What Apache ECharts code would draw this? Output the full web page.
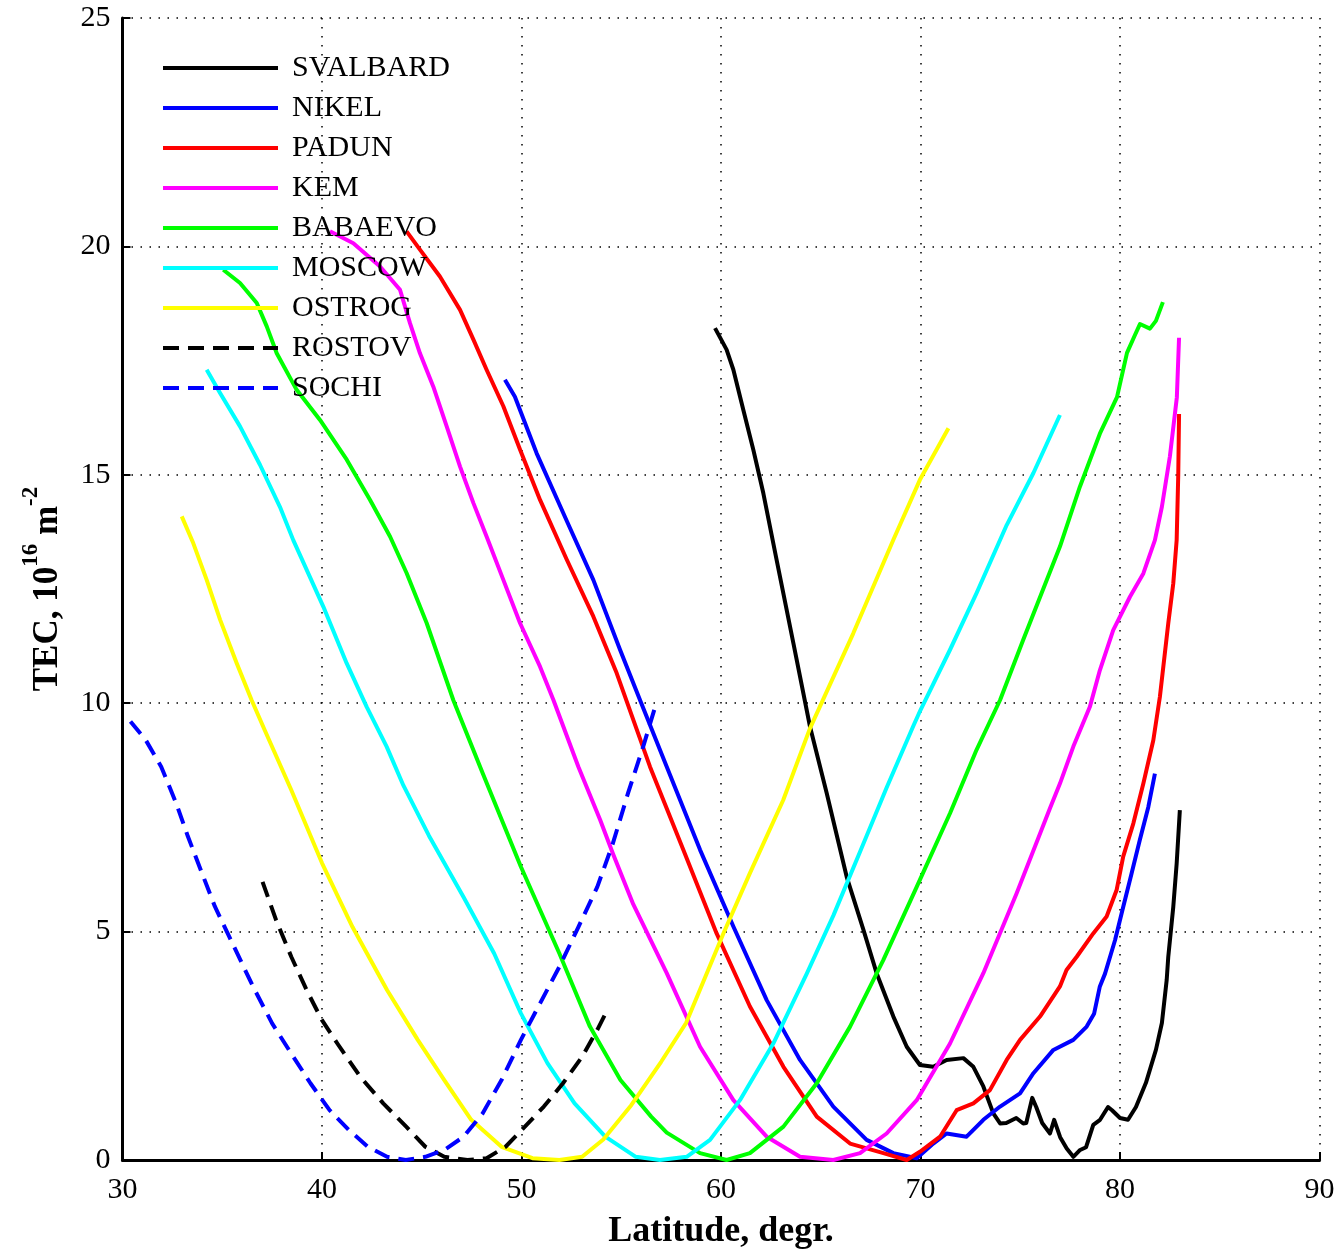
<!DOCTYPE html>
<html>
<head>
<meta charset="utf-8">
<script src="https://cdn.jsdelivr.net/npm/echarts@6/dist/echarts.min.js"></script>
<style>
html,body{margin:0;padding:0;background:#fff;}
#chart{width:1337px;height:1250px;}
</style>
</head>
<body>
<div id="chart"></div>
<script>
// ---- data: [latitude, TEC] pairs ----
var stationNames = ['SVALBARD','NIKEL','PADUN','KEM','BABAEVO','MOSCOW','OSTROG','ROSTOV','SOCHI'];
var stationColors = ['#000000','#0000ff','#ff0000','#ff00ff','#00ff00','#00ffff','#ffff00','#000000','#0000ff'];
var stationDashed = [false,false,false,false,false,false,false,true,true];

var xTicks = [30,40,50,60,70,80,90];
var yTicks = [0,5,10,15,20,25];

var svalbard = [[59.7,18.21],[60.28,17.74],[60.62,17.3],[61.12,16.42],[61.62,15.55],[62.12,14.6],[62.79,13.13],[63.63,11.31],[64.46,9.49],[65.3,8.03],[66.3,6.2],[67.14,5.04],[67.8,4.09],[68.64,3.14],[69.31,2.48],[69.97,2.08],[70.64,2.04],[71.31,2.19],[72.15,2.23],[72.65,2.04],[73.15,1.61],[73.65,1.02],[73.99,0.8],[74.3,0.81],[74.8,0.92],[75.15,0.8],[75.3,0.81],[75.6,1.36],[75.8,1.16],[76.1,0.81],[76.49,0.58],[76.7,0.88],[77.0,0.5],[77.33,0.25],[77.66,0.07],[78.0,0.22],[78.3,0.28],[78.66,0.77],[79.0,0.88],[79.4,1.16],[79.6,1.09],[80.0,0.92],[80.4,0.88],[80.8,1.16],[81.3,1.69],[81.8,2.41],[82.1,3.0],[82.34,3.94],[82.42,4.45],[82.67,5.54],[82.84,6.49],[83.0,7.66]];
var nikel = [[49.17,17.08],[49.67,16.71],[50.76,15.47],[52.26,14.0],[53.6,12.7],[54.94,11.17],[55.94,10.07],[57.28,8.61],[58.95,6.79],[60.62,5.11],[62.29,3.5],[63.96,2.19],[65.63,1.17],[67.3,0.44],[68.64,0.15],[69.81,0.04],[70.64,0.36],[71.31,0.58],[72.31,0.51],[73.15,0.88],[73.99,1.17],[74.99,1.46],[75.66,1.9],[76.66,2.41],[77.66,2.63],[78.33,2.92],[78.7,3.2],[78.99,3.8],[79.25,4.08],[79.75,4.81],[80.16,5.54],[80.58,6.27],[80.99,7.0],[81.42,7.73],[81.75,8.46]];
var padun = [[44.24,20.33],[44.91,19.93],[45.91,19.34],[46.92,18.61],[47.59,17.96],[48.25,17.3],[49.09,16.5],[49.93,15.55],[50.93,14.45],[52.26,13.15],[53.6,11.9],[54.77,10.66],[56.44,8.61],[58.11,6.79],[59.78,4.96],[61.45,3.36],[63.13,2.04],[64.8,0.95],[66.47,0.36],[68.14,0.15],[69.31,0.0],[69.97,0.18],[70.98,0.51],[71.81,1.09],[72.65,1.24],[73.48,1.53],[74.32,2.19],[74.99,2.63],[75.99,3.14],[76.99,3.8],[77.32,4.16],[77.83,4.45],[78.66,4.96],[79.33,5.33],[79.83,5.91],[80.16,6.64],[80.67,7.37],[81.17,8.24],[81.67,9.19],[82.0,10.14],[82.42,11.75],[82.67,12.62],[82.84,13.57],[82.92,15.0],[82.96,16.33]];
var kem = [[40.4,20.33],[41.57,20.07],[42.91,19.56],[43.91,19.05],[44.41,18.32],[44.91,17.66],[45.58,16.93],[46.25,16.06],[46.92,15.18],[47.59,14.38],[48.25,13.65],[49.09,12.7],[49.93,11.75],[50.93,10.8],[51.6,10.07],[52.85,8.61],[53.94,7.45],[54.58,6.71],[55.6,5.6],[57.28,4.09],[58.95,2.48],[60.62,1.31],[62.29,0.51],[63.96,0.07],[65.63,0.0],[66.97,0.15],[68.3,0.58],[69.81,1.31],[71.48,2.55],[73.15,4.09],[74.82,5.84],[76.49,7.7],[76.99,8.24],[77.66,9.05],[78.49,9.92],[78.99,10.72],[79.66,11.6],[80.5,12.33],[81.17,12.84],[81.75,13.57],[82.1,14.3],[82.5,15.4],[82.85,16.7],[82.96,18.0]];
var babaevo = [[35.05,19.49],[35.89,19.2],[36.73,18.76],[37.23,18.25],[37.73,17.66],[38.73,16.86],[39.9,16.2],[41.24,15.33],[42.41,14.45],[43.41,13.65],[44.24,12.85],[45.25,11.75],[46.58,10.07],[48.05,8.47],[49.97,6.42],[51.9,4.52],[53.43,2.92],[54.96,1.75],[56.5,0.95],[57.28,0.6],[58.95,0.15],[60.28,0.0],[61.45,0.15],[63.13,0.73],[64.8,1.68],[66.47,2.92],[68.14,4.38],[69.81,5.98],[71.48,7.59],[72.81,8.98],[73.99,10.07],[75.15,11.39],[76.99,13.43],[77.99,14.74],[78.99,15.9],[79.85,16.7],[80.35,17.67],[80.75,18.06],[81.0,18.3],[81.5,18.2],[81.8,18.37],[82.15,18.78]];
var moscow = [[34.22,17.3],[34.89,16.79],[35.89,16.06],[36.89,15.22],[37.89,14.3],[38.56,13.57],[40.07,12.11],[41.24,10.87],[42.24,9.92],[43.24,9.05],[44.08,8.2],[45.36,7.1],[47.1,5.75],[48.63,4.52],[49.97,3.21],[51.3,2.12],[52.66,1.24],[54.2,0.51],[55.73,0.07],[56.94,0.0],[58.28,0.07],[59.45,0.44],[60.95,1.31],[62.62,2.55],[64.3,4.08],[65.63,5.35],[66.97,6.75],[68.3,8.15],[69.64,9.5],[70.0,9.85],[71.48,11.17],[72.81,12.41],[74.32,13.9],[75.66,15.04],[76.99,16.31]];
var ostrog = [[32.97,14.09],[33.55,13.5],[34.22,12.7],[34.89,11.83],[35.72,10.88],[36.47,10.07],[37.12,9.42],[38.46,8.1],[40.0,6.5],[41.53,5.1],[43.26,3.72],[44.8,2.63],[46.13,1.75],[47.48,0.88],[49.0,0.29],[50.55,0.04],[51.9,0.0],[53.04,0.07],[54.1,0.45],[55.5,1.2],[57.0,2.15],[58.25,3.0],[60.12,4.96],[61.45,6.28],[63.12,7.88],[64.46,9.45],[66.63,11.53],[68.64,13.58],[69.97,14.89],[71.4,16.02]];
var rostov = [[37.02,6.09],[37.7,5.25],[38.46,4.45],[39.23,3.72],[40.0,3.06],[40.77,2.55],[41.92,1.82],[43.07,1.24],[44.22,0.73],[45.18,0.29],[46.13,0.07],[47.29,0.0],[48.25,0.04],[49.2,0.29],[50.17,0.73],[51.12,1.17],[52.08,1.68],[53.04,2.26],[53.8,2.85],[54.3,3.28]];
var sochi = [[30.4,9.6],[31.17,9.19],[31.94,8.61],[32.7,7.8],[33.28,7.08],[33.86,6.42],[34.63,5.55],[35.59,4.67],[36.55,3.79],[37.5,2.99],[38.46,2.33],[39.42,1.68],[40.38,1.09],[41.34,0.66],[42.3,0.29],[43.26,0.07],[44.2,0.0],[45.18,0.07],[46.13,0.22],[47.1,0.51],[48.05,1.02],[49.0,1.75],[49.97,2.63],[50.93,3.43],[51.9,4.23],[52.85,5.1],[53.8,5.98],[54.58,6.93],[55.34,8.03],[56.1,9.05],[56.7,9.92]];

var stationData = [svalbard, nikel, padun, kem, babaevo, moscow, ostrog, rostov, sochi];

// ---- chart ----
var FONT = '"Liberation Serif","Times New Roman",serif';
var chart = echarts.init(document.getElementById('chart'), null, {renderer:'canvas'});

var series = stationNames.map(function(name, i){
  return {
    name: name,
    type: 'line',
    data: stationData[i],
    showSymbol: false,
    symbol: 'none',
    smooth: false,
    lineStyle: {
      color: stationColors[i],
      width: 4,
      type: stationDashed[i] ? [16, 9] : 'solid',
      cap: 'butt',
      join: 'round'
    },
    itemStyle: {color: stationColors[i]},
    emphasis: {disabled: true}
  };
});

var option = {
  animation: false,
  backgroundColor: '#ffffff',
  grid: {left: 122.5, right: 17.5, top: 18, bottom: 90, containLabel: false, outerBoundsMode: 'none'},
  legend: {
    orient: 'vertical',
    left: 161,
    top: 53,
    padding: 0,
    itemWidth: 115,
    itemHeight: 4,
    itemGap: 10,
    selectedMode: false,
    data: stationNames,
    itemStyle: {opacity: 0},
    lineStyle: {width: 4},
    textStyle: {fontFamily: FONT, fontSize: 30, color: '#000', lineHeight: 29, padding: [0,0,0,9]}
  },
  xAxis: {
    type: 'value',
    min: xTicks[0],
    max: xTicks[xTicks.length-1],
    interval: 10,
    name: 'Latitude, degr.',
    nameLocation: 'middle',
    nameGap: 54,
    nameTextStyle: {fontFamily: FONT, fontSize: 36, fontWeight: 'bold', color: '#000'},
    axisLine: {show: true, onZero: false, lineStyle: {color: '#000', width: 3}},
    axisTick: {show: true, inside: true, length: 8, lineStyle: {color: '#000', width: 2}},
    axisLabel: {fontFamily: FONT, fontSize: 30, color: '#000', margin: 15},
    splitLine: {show: true, lineStyle: {color: '#000', width: 1.5, type: [1.5, 7.5]}}
  },
  yAxis: {
    type: 'value',
    min: yTicks[0],
    max: yTicks[yTicks.length-1],
    interval: 5,
    name: '{m|TEC, 10}{s|16}{m| m}{s|-2}',
    nameLocation: 'middle',
    nameRotate: 90,
    nameGap: 57,
    nameTextStyle: {
      fontFamily: FONT, fontSize: 35, fontWeight: 'bold', color: '#000',
      rich: {
        m: {fontFamily: FONT, fontSize: 35, fontWeight: 'bold', color: '#000', lineHeight: 46, verticalAlign: 'bottom'},
        s: {fontFamily: FONT, fontSize: 23, fontWeight: 'bold', color: '#000', lineHeight: 23, verticalAlign: 'top'}
      }
    },
    axisLine: {show: true, lineStyle: {color: '#000', width: 3}},
    axisTick: {show: true, inside: true, length: 8, lineStyle: {color: '#000', width: 2}},
    axisLabel: {fontFamily: FONT, fontSize: 30, color: '#000', margin: 12},
    splitLine: {show: true, lineStyle: {color: '#000', width: 1.5, type: [1.5, 7.5]}}
  },
  series: series
};
chart.setOption(option);
</script>
</body>
</html>
